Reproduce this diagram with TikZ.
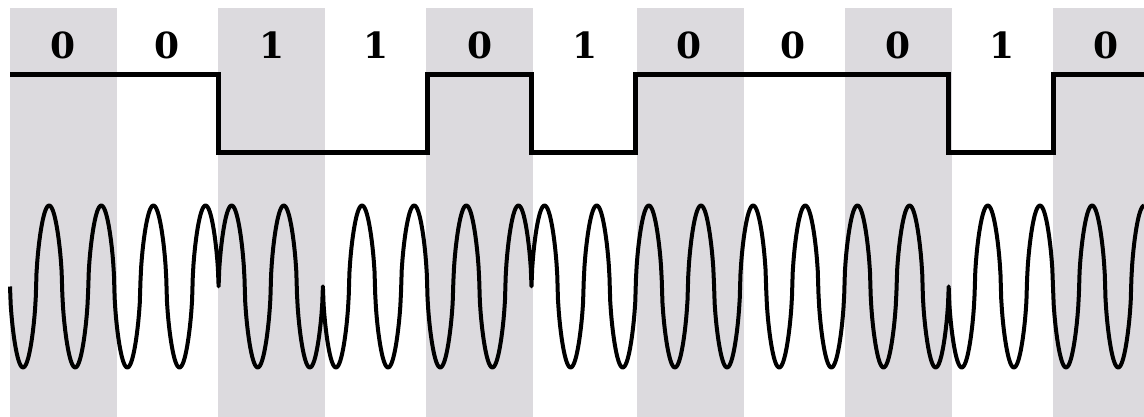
\documentclass[tikz,border=0pt]{standalone}
\usepackage{fontspec}
\newfontfamily\bitfont{DejaVu Serif}[Scale=1]
\definecolor{bandgray}{RGB}{220,218,222}
\begin{document}
\begin{tikzpicture}[x=1pt,y=-1pt,
  declare function={wv(\t)=sin(\t)/(abs(sin(\t))+0.001)^0.4;},
  band/.style={fill=bandgray},
  bitlabel/.style={font=\bitfont\bfseries\fontsize{36}{40}\selectfont, inner sep=0pt, anchor=center},
  level/.style={line width=5pt, line join=miter},
  carrier/.style={line width=4pt, line join=round, line cap=butt}]
\useasboundingbox (0,0) rectangle (1144,417);
% alternating shaded bit slots
\foreach \a/\b in {10/117,218/325,426/533,637/744,845/952,1053/1144}
  \fill[band] (\a,8) rectangle (\b,417);
% bit values
\foreach \v [count=\i from 0] in {0,0,1,1,0,1,0,0,0,1,0}
  \node[bitlabel] (bit\i) at ({10+104.3*(\i+0.5)+1},45) {\v};
% data signal (0 = high, 1 = low)
\draw[level] (10,74.5) -- (218.6,74.5) -- (218.6,153) -- (427.2,153) -- (427.2,74.5)
  -- (531.5,74.5) -- (531.5,153) -- (635.8,153) -- (635.8,74.5) -- (948.7,74.5)
  -- (948.7,153) -- (1053,153) -- (1053,74.5) -- (1144,74.5);
% differential PSK carrier, two cycles per bit (6.9032 deg per pt);
% the phase flips at the start of every 1 bit
\draw[carrier]
  plot[domain=10:218.6, samples=300] (\x,{286.5+81*wv(6.9032*(\x-10))})
  -- plot[domain=218.6:322.9, samples=150] (\x,{286.5-81*wv(6.9032*(\x-10))})
  -- plot[domain=322.9:531.5, samples=300] (\x,{286.5+81*wv(6.9032*(\x-10))})
  -- plot[domain=531.5:948.7, samples=600] (\x,{286.5-81*wv(6.9032*(\x-10))})
  -- plot[domain=948.7:1144, samples=280] (\x,{286.5+81*wv(6.9032*(\x-10))});
\end{tikzpicture}
\end{document}
